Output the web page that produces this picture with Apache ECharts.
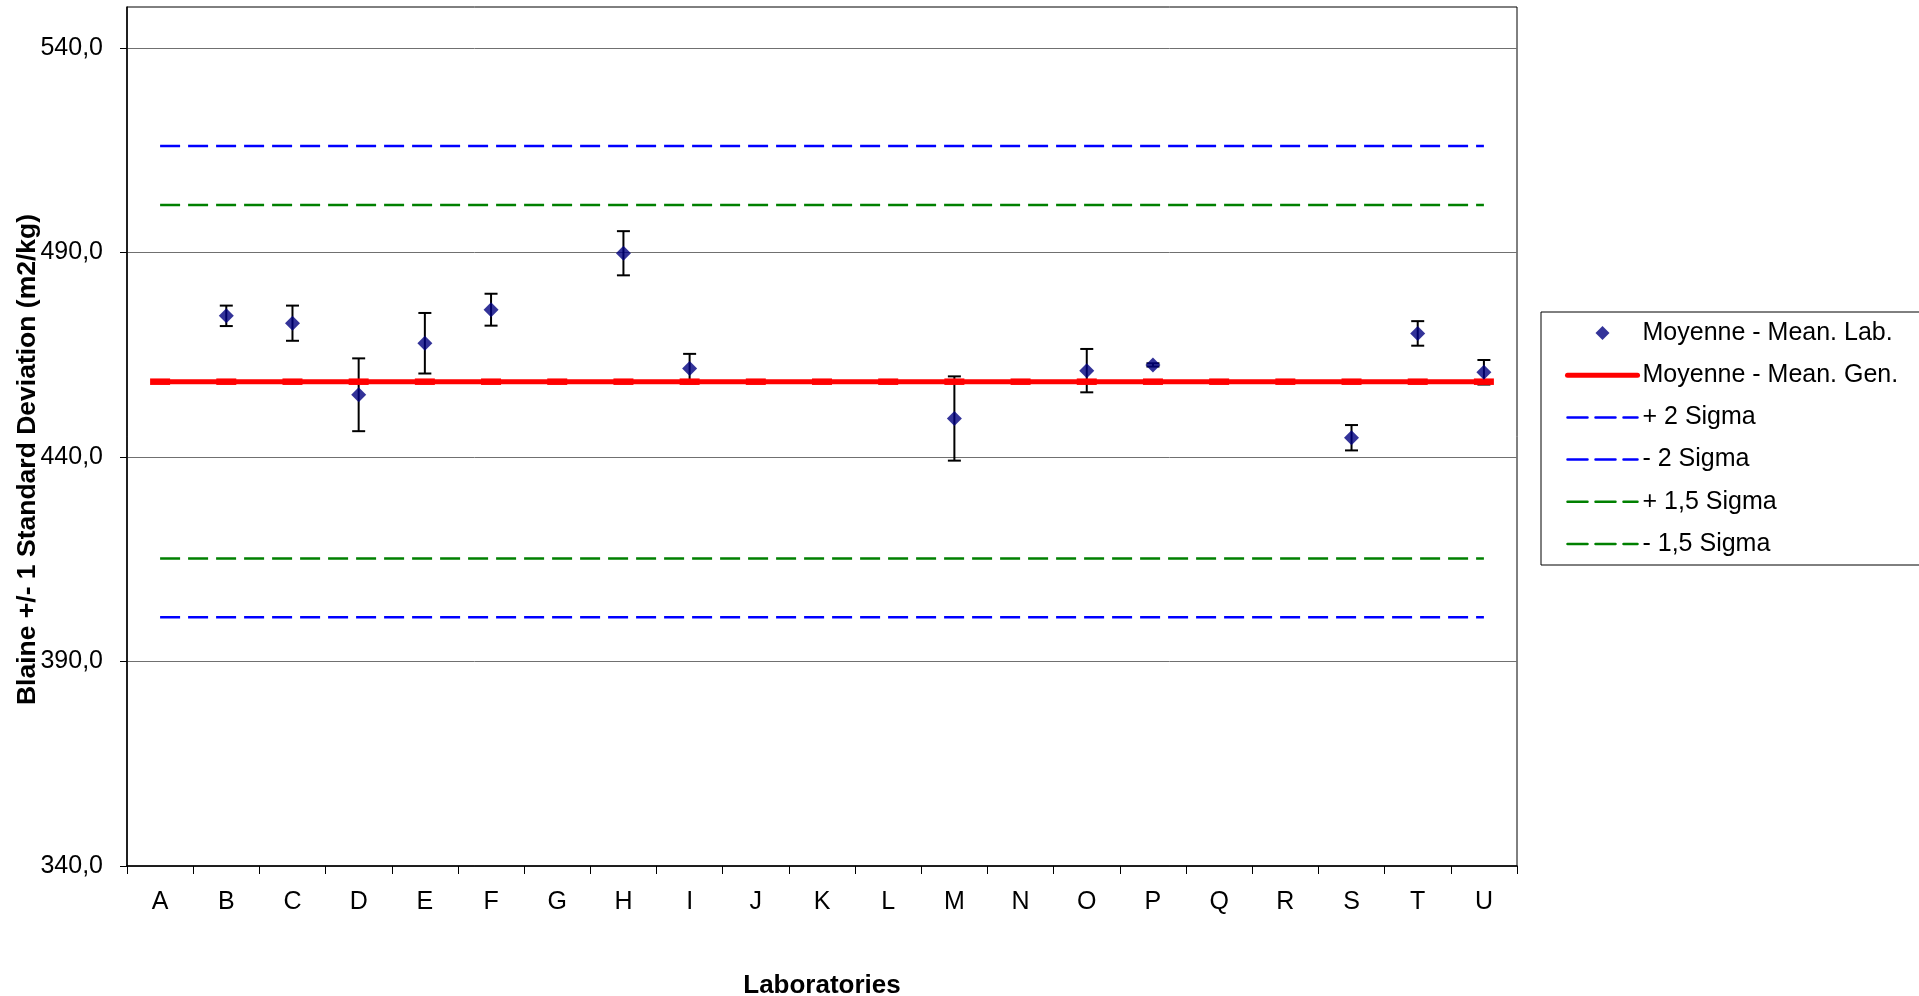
<!DOCTYPE html>
<html>
<head>
<meta charset="utf-8">
<title>Blaine</title>
<script src="https://cdn.jsdelivr.net/npm/echarts@6/dist/echarts.min.js"></script>
<style>
  html, body { margin: 0; padding: 0; background: #ffffff; }
  #chart { width: 1919px; height: 996px; }
</style>
</head>
<body>
<div id="chart"></div>
<script>
// Laboratories on the category axis
const labs = ['A', 'B', 'C', 'D', 'E', 'F', 'G', 'H', 'I', 'J', 'K',
              'L', 'M', 'N', 'O', 'P', 'Q', 'R', 'S', 'T', 'U'];

// Mean Blaine value per laboratory (null = no result)
const labMeans = [null, 474.5, 472.7, 455.2, 467.8, 476.0, null, 489.8, 461.6, null, null,
                  null, 449.4, null, 461.1, 462.5, null, null, 444.7, 470.2, 460.7];

// One standard deviation per laboratory
const labStdDevs = [null, 2.5, 4.3, 8.9, 7.4, 3.9, null, 5.4, 3.6, null, null,
                    null, 10.3, null, 5.3, 0.4, null, null, 3.1, 3.0, 3.0];

// General mean and control limits
const meanGen = 458.4;
const plus2Sigma = 516.0;
const minus2Sigma = 400.8;
const plus15Sigma = 501.6;
const minus15Sigma = 415.2;

// Value axis ticks
const yTicks = [340, 390, 440, 490, 540];
const yMin = 340;
const yMax = 550;

const FONT = "'Liberation Sans', Arial, Helvetica, sans-serif";

const errorBars = [];
labMeans.forEach(function (m, i) {
  if (m != null) {
    errorBars.push([i, m - labStdDevs[i], m + labStdDevs[i]]);
  }
});

function levelSeries(name, value, color) {
  return {
    name: name,
    type: 'line',
    data: labs.map(function () { return value; }),
    symbol: 'none',
    lineStyle: { color: color, width: 2.5, type: [20, 8] },
    itemStyle: { color: color },
    z: 3,
    silent: true
  };
}

// Legend entry for a line series: hide the marker, keep the stroke
function lineLegendItem(name, width) {
  return { name: name, itemStyle: { opacity: 0 }, lineStyle: { width: width, cap: 'round' } };
}

const chart = echarts.init(document.getElementById('chart'), null, { renderer: 'canvas' });

chart.setOption({
  animation: false,
  backgroundColor: '#ffffff',
  textStyle: { fontFamily: FONT },
  grid: {
    left: 127, right: 402, top: 7, bottom: 130,
    show: true, borderColor: '#000000', borderWidth: 1,
    containLabel: false,
    outerBoundsMode: 'none'
  },
  legend: {
    orient: 'vertical',
    left: 1541,
    top: 312,
    padding: [6, 24, 6, 24],
    itemGap: 12.2,
    itemWidth: 70,
    itemHeight: 14,
    symbolKeepAspect: true,
    borderColor: '#000000',
    borderWidth: 1,
    backgroundColor: '#ffffff',
    selectedMode: false,
    textStyle: { fontFamily: FONT, fontSize: 25, color: '#000000', lineHeight: 30 },
    data: [
      { name: 'Moyenne - Mean. Lab.', icon: 'path://M7,0L14,7L7,14L0,7Z' },
      lineLegendItem('Moyenne - Mean. Gen.', 5),
      lineLegendItem('+ 2 Sigma', 2.5),
      lineLegendItem('- 2 Sigma', 2.5),
      lineLegendItem('+ 1,5 Sigma', 2.5),
      lineLegendItem('- 1,5 Sigma', 2.5)
    ]
  },
  xAxis: {
    type: 'category',
    data: labs,
    boundaryGap: true,
    name: 'Laboratories',
    nameLocation: 'middle',
    nameGap: 107,
    nameMoveOverlap: false,
    nameTextStyle: { fontFamily: FONT, fontSize: 26, fontWeight: 'bold', color: '#000000' },
    axisLine: { lineStyle: { color: '#000000', width: 1.5 } },
    axisTick: { show: true, length: 8, inside: false, lineStyle: { color: '#000000', width: 1 } },
    axisLabel: { fontFamily: FONT, fontSize: 25, color: '#000000', margin: 24 },
    splitLine: { show: false }
  },
  yAxis: {
    type: 'value',
    min: yMin,
    max: yMax,
    interval: 50,
    name: 'Blaine +/- 1 Standard Deviation (m2/kg)',
    nameLocation: 'middle',
    nameGap: 86,
    nameMoveOverlap: false,
    nameRotate: 90,
    nameTextStyle: {
      fontFamily: FONT, fontSize: 26.5, fontWeight: 'bold', color: '#000000',
      padding: [0, 46, 0, 0]
    },
    axisLine: { show: true, lineStyle: { color: '#000000', width: 1.5 } },
    axisTick: {
      show: true, length: 7, inside: false,
      customValues: yTicks,
      lineStyle: { color: '#000000', width: 1 }
    },
    axisLabel: {
      fontFamily: FONT, fontSize: 25, color: '#000000', margin: 24,
      customValues: yTicks,
      formatter: function (v) {
        return yTicks.indexOf(v) >= 0 ? v.toFixed(1).replace('.', ',') : '';
      }
    },
    splitLine: { show: true, lineStyle: { color: '#707070', width: 1 } }
  },
  series: [
    {
      name: 'Error bars',
      type: 'custom',
      data: errorBars,
      encode: { x: 0, y: [1, 2] },
      z: 2,
      silent: true,
      renderItem: function (params, api) {
        const x = api.value(0);
        const lo = api.coord([x, api.value(1)]);
        const hi = api.coord([x, api.value(2)]);
        const half = 6.5;
        const style = { stroke: '#000000', lineWidth: 2 };
        return {
          type: 'group',
          children: [
            { type: 'line', shape: { x1: lo[0], y1: lo[1], x2: hi[0], y2: hi[1] }, style: style },
            { type: 'line', shape: { x1: lo[0] - half, y1: lo[1], x2: lo[0] + half, y2: lo[1] }, style: style },
            { type: 'line', shape: { x1: hi[0] - half, y1: hi[1], x2: hi[0] + half, y2: hi[1] }, style: style }
          ]
        };
      }
    },
    {
      name: 'Moyenne - Mean. Gen.',
      type: 'line',
      data: labs.map(function () { return meanGen; }),
      symbol: 'rect',
      symbolSize: [20, 6.5],
      showSymbol: true,
      lineStyle: { color: '#ff0000', width: 5 },
      itemStyle: { color: '#ff0000' },
      z: 4,
      silent: true
    },
    levelSeries('+ 2 Sigma', plus2Sigma, '#0000ff'),
    levelSeries('- 2 Sigma', minus2Sigma, '#0000ff'),
    levelSeries('+ 1,5 Sigma', plus15Sigma, '#008000'),
    levelSeries('- 1,5 Sigma', minus15Sigma, '#008000'),
    {
      name: 'Moyenne - Mean. Lab.',
      type: 'scatter',
      data: labMeans,
      symbol: 'diamond',
      symbolSize: 15,
      itemStyle: { color: '#000080' },
      z: 5,
      silent: true
    }
  ]
});
</script>
</body>
</html>
